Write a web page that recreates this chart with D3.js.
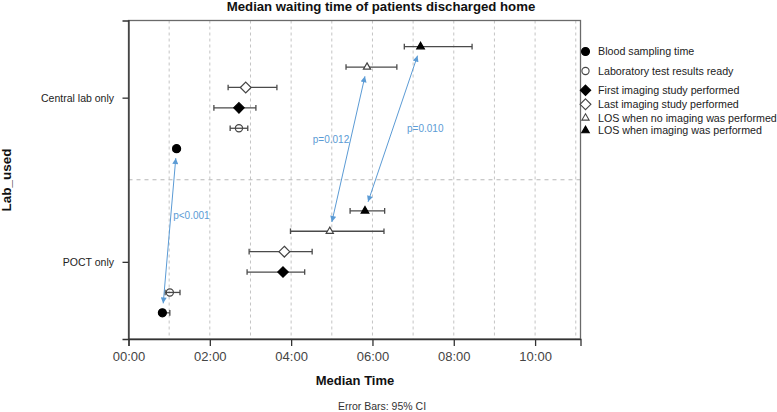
<!DOCTYPE html>
<html>
<head>
<meta charset="utf-8">
<script src="https://cdn.jsdelivr.net/npm/d3@7/dist/d3.min.js"></script>
<style>
  html, body { margin: 0; padding: 0; background: #fff; }
  svg { display: block; font-family: "Liberation Sans", Arial, sans-serif; }
</style>
</head>
<body>
<svg id="chart" width="777" height="412"></svg>
<script>
// ---- data (minutes) ----
const categories = ["Central lab only", "POCT only"];
const seriesNames = [
  "Blood sampling time",
  "Laboratory test results ready",
  "First imaging study performed",
  "Last imaging study performed",
  "LOS when no imaging was performed",
  "LOS when imaging was performed"
];
const seriesShapes = ["circle", "circle", "diamond", "diamond", "triangle", "triangle"];
const seriesFilled = [true, false, true, false, false, true];

const centralMedian = [71, 163, 163, 173, 352, 431];
const centralLow    = [66, 150, 126, 147, 321, 407];
const centralHigh   = [75, 176, 188, 219, 396, 507];

const poctMedian = [50, 61, 228, 230, 297, 349];
const poctLow    = [46, 54, 175, 178, 239, 327];
const poctHigh   = [61, 76, 260, 271, 377, 378];

const xTicks = [0, 120, 240, 360, 480, 600];
const xGrid = [60, 120, 180, 240, 300, 360, 420, 480, 540, 600, 660];

// comparisons: series index compared between the two categories
const compareSeries = [0, 4, 5];
const pLabels = ["p<0.001", "p=0.012", "p=0.010"];
const pLabelX = [66, 272, 411];      // minutes
const pLabelT = [0.72, 0.257, 0.19]; // fraction from first to second category centre

// ---- layout ----
const svg = d3.select("#chart");
const plot = { left: 128.5, right: 580.5, top: 20.5, bottom: 339 };

const x = d3.scaleLinear().domain([0, 667]).range([plot.left, plot.right]);
const y = d3.scalePoint().domain(categories).range([plot.top, plot.bottom]).padding(0.47);
const yInner = d3.scalePoint().domain(d3.range(seriesNames.length).reverse()).range([-51, 51]);

const fmt = d => String(Math.floor(d / 60)).padStart(2, "0") + ":" + String(d % 60).padStart(2, "0");

// grid
svg.append("g").selectAll("line").data(xGrid).join("line")
  .attr("x1", d => x(d)).attr("x2", d => x(d))
  .attr("y1", plot.top).attr("y2", plot.bottom)
  .attr("stroke", "#c4c4c4").attr("stroke-width", 1).attr("stroke-dasharray", "3,3");

// horizontal separator
const midY = (y(categories[0]) + y(categories[1])) / 2;
svg.append("line")
  .attr("x1", plot.left).attr("x2", plot.right)
  .attr("y1", midY).attr("y2", midY)
  .attr("stroke", "#b8b8b8").attr("stroke-width", 1.2).attr("stroke-dasharray", "4,4");

// frame
svg.append("rect")
  .attr("x", plot.left).attr("y", plot.top)
  .attr("width", plot.right - plot.left).attr("height", plot.bottom - plot.top)
  .attr("fill", "none").attr("stroke", "#6a6a6a").attr("stroke-width", 1.3);

// axes
const xAxis = svg.append("g").attr("transform", `translate(0,${plot.bottom})`)
  .call(d3.axisBottom(x).tickValues(xTicks).tickFormat(fmt).tickSize(7).tickPadding(5.5));
xAxis.select(".domain").attr("stroke", "#333").attr("stroke-width", 1.3);
xAxis.selectAll(".tick line").attr("stroke", "#333").attr("stroke-width", 1.3);
xAxis.selectAll("text").attr("font-size", 13).attr("fill", "#444")
  .attr("font-family", "'Liberation Sans', Arial, sans-serif");

const yAxis = svg.append("g").attr("transform", `translate(${plot.left},0)`)
  .call(d3.axisLeft(y).tickSize(6).tickPadding(8.5));
yAxis.select(".domain").attr("stroke", "#333").attr("stroke-width", 1.3);
yAxis.selectAll(".tick line").attr("stroke", "#333").attr("stroke-width", 1.3);
yAxis.selectAll("text").attr("font-size", 10.5).attr("fill", "#222")
  .attr("font-family", "'Liberation Sans', Arial, sans-serif");

// titles
svg.append("text").attr("x", 381).attr("y", 10.5).attr("text-anchor", "middle")
  .attr("font-size", 13.2).attr("font-weight", "bold").attr("fill", "#111")
  .text("Median waiting time of patients discharged home");
svg.append("text").attr("x", 355).attr("y", 385).attr("text-anchor", "middle")
  .attr("font-size", 13).attr("font-weight", "bold").attr("fill", "#111")
  .text("Median Time");
svg.append("text").attr("x", 382).attr("y", 410).attr("text-anchor", "middle")
  .attr("font-size", 10.5).attr("fill", "#333")
  .text("Error Bars: 95% CI");
svg.append("text").attr("transform", `translate(11,180) rotate(-90)`).attr("text-anchor", "middle")
  .attr("font-size", 13.5).attr("font-weight", "bold").attr("fill", "#111")
  .text("Lab_used");

// marker shape paths
function shapePath(shape, filled) {
  if (shape === "circle") {
    const r = filled ? 4 : 3.6;
    return `M${-r},0A${r},${r} 0 1,0 ${r},0A${r},${r} 0 1,0 ${-r},0Z`;
  }
  if (shape === "diamond") {
    const h = filled ? 5.2 : 5.4;
    return `M0,${-h}L${h},0L0,${h}L${-h},0Z`;
  }
  const s = filled ? 7.6 : 7.2, hh = s * Math.sqrt(3) / 2;
  return `M0,${-hh * 2 / 3}L${s / 2},${hh / 3}L${-s / 2},${hh / 3}Z`;
}

// build rows
const rows = [];
categories.forEach((cat, ci) => {
  const med = ci === 0 ? centralMedian : poctMedian;
  const lo = ci === 0 ? centralLow : poctLow;
  const hi = ci === 0 ? centralHigh : poctHigh;
  seriesNames.forEach((s, si) => {
    rows.push({ cat, si, med: med[si], lo: lo[si], hi: hi[si] });
  });
});
const rowY = d => y(d.cat) + yInner(d.si);

// error bars
const eb = svg.append("g").attr("stroke", "#4a4a4a").attr("stroke-width", 1.3).attr("fill", "none");
rows.forEach(d => {
  const yy = rowY(d);
  eb.append("line").attr("x1", x(d.lo)).attr("x2", x(d.hi)).attr("y1", yy).attr("y2", yy);
  eb.append("line").attr("x1", x(d.lo)).attr("x2", x(d.lo)).attr("y1", yy - 2.8).attr("y2", yy + 2.8);
  eb.append("line").attr("x1", x(d.hi)).attr("x2", x(d.hi)).attr("y1", yy - 2.8).attr("y2", yy + 2.8);
});

// points
svg.append("g").selectAll("path").data(rows).join("path")
  .attr("transform", d => `translate(${x(d.med)},${rowY(d)})`)
  .attr("d", d => shapePath(seriesShapes[d.si], seriesFilled[d.si]))
  .attr("fill", d => seriesFilled[d.si] ? "#000" : (seriesShapes[d.si] === "circle" ? "none" : "#fff"))
  .attr("stroke", d => seriesFilled[d.si] ? "#000" : "#444")
  .attr("stroke-width", 1.2);

// arrows
const blue = "#5b9bd5";
const defs = svg.append("defs");
defs.append("marker").attr("id", "ah")
  .attr("viewBox", "0 0 10 10").attr("refX", 10).attr("refY", 5)
  .attr("markerWidth", 7).attr("markerHeight", 6).attr("markerUnits", "userSpaceOnUse")
  .attr("orient", "auto-start-reverse")
  .append("path").attr("d", "M0,0L10,5L0,10Z").attr("fill", blue);

compareSeries.forEach((si, k) => {
  const a = rows.find(r => r.cat === categories[0] && r.si === si);
  const b = rows.find(r => r.cat === categories[1] && r.si === si);
  const x1 = x(a.med), y1 = rowY(a), x2 = x(b.med), y2 = rowY(b);
  const len = Math.hypot(x2 - x1, y2 - y1);
  const ux = (x2 - x1) / len, uy = (y2 - y1) / len;
  const off = 9.5;
  svg.append("line")
    .attr("x1", x1 + ux * off).attr("y1", y1 + uy * off)
    .attr("x2", x2 - ux * off).attr("y2", y2 - uy * off)
    .attr("stroke", blue).attr("stroke-width", 1)
    .attr("marker-start", "url(#ah)").attr("marker-end", "url(#ah)");
  const c0 = y(categories[0]), c1 = y(categories[1]);
  svg.append("text")
    .attr("x", x(pLabelX[k])).attr("y", c0 + (c1 - c0) * pLabelT[k] + 3.5)
    .attr("font-size", 10).attr("fill", blue)
    .text(pLabels[k]);
});

// legend
const legY = [51.5, 71, 90.3, 104.3, 118, 130.5];
const leg = svg.append("g");
seriesNames.forEach((s, i) => {
  const g = leg.append("g").attr("transform", `translate(585.5,${legY[i]})`);
  g.append("path")
    .attr("d", shapePath(seriesShapes[i], seriesFilled[i]))
    .attr("fill", seriesFilled[i] ? "#000" : "#fff")
    .attr("stroke", seriesFilled[i] ? "#000" : "#444").attr("stroke-width", 1.1);
  g.append("text").attr("x", 12.5).attr("y", 3.8)
    .attr("font-size", 10.7).attr("fill", "#222").text(s);
});
</script>
</body>
</html>
